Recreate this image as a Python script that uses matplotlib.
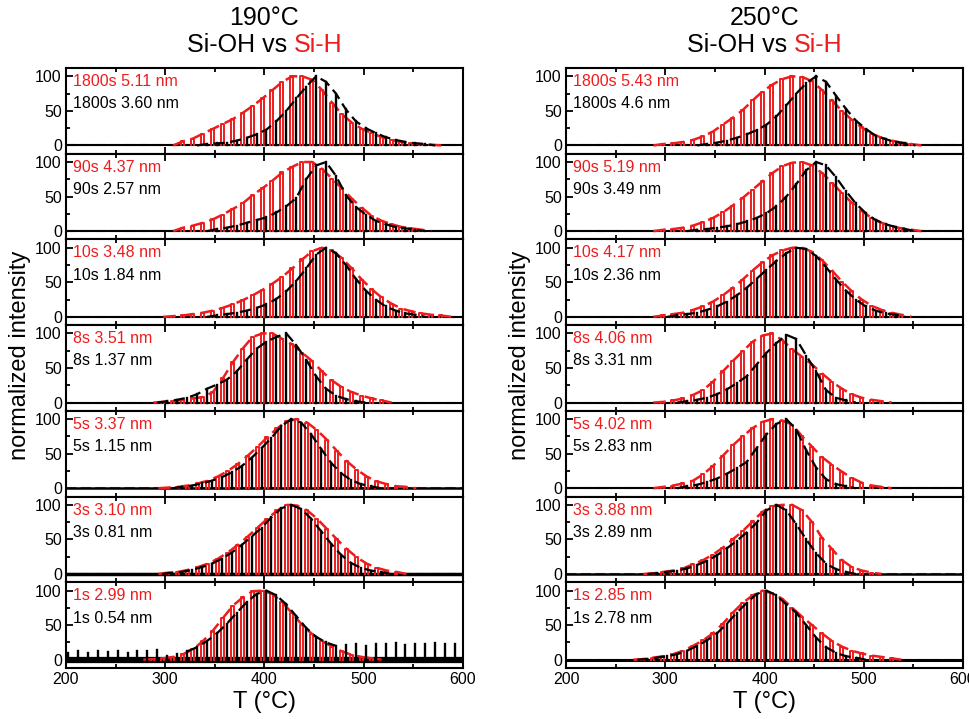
import numpy as np
import matplotlib
matplotlib.use("Agg")
import matplotlib.pyplot as plt

plt.rcParams["font.family"] = ["Liberation Sans", "DejaVu Sans"]

RED = "#ee1c1c"
BLACK = "#000000"
STEP = 10  # spacing of the spikes, °C

times = ["1800s", "90s", "10s", "8s", "5s", "3s", "1s"]

# --- 190 °C column ---
red_190_nm = ["5.11", "4.37", "3.48", "3.51", "3.37", "3.10", "2.99"]
blk_190_nm = ["3.60", "2.57", "1.84", "1.37", "1.15", "0.81", "0.54"]
red_190_start = [320, 320, 310, 300, 305, 305, 290]
red_190 = [
    [6, 10, 17, 24, 31, 38, 47, 57, 68, 80, 92, 100, 100, 95, 80, 62, 45, 33, 24, 18, 12, 8, 5, 3, 2, 1],
    [5, 8, 12, 17, 24, 32, 40, 52, 62, 73, 85, 93, 100, 100, 90, 76, 62, 47, 34, 22, 15, 10, 6, 4, 2],
    [1, 2, 4, 6, 9, 13, 18, 24, 31, 39, 48, 58, 70, 83, 95, 100, 96, 85, 70, 54, 40, 28, 19, 12, 8, 5, 3, 2],
    [1, 2, 4, 6, 8, 15, 35, 58, 78, 95, 100, 100, 92, 84, 72, 60, 45, 32, 22, 15, 10, 6, 3],
    [1, 2, 4, 7, 11, 17, 25, 35, 47, 60, 74, 87, 97, 100, 95, 84, 70, 54, 39, 27, 17, 10, 6, 3, 2],
    [2, 3, 6, 10, 15, 22, 31, 42, 54, 67, 80, 92, 100, 99, 92, 80, 65, 50, 36, 24, 15, 9, 5, 3],
    [1, 2, 4, 8, 15, 27, 42, 60, 78, 90, 99, 100, 95, 83, 67, 50, 37, 27, 19, 12, 7, 4, 2],
]
blk_190_start = [340, 350, 350, 300, 315, 305, 200]
blk_190 = [
    [2, 3, 4, 7, 11, 16, 23, 35, 50, 68, 85, 100, 92, 75, 52, 35, 25, 18, 12, 8, 5, 3, 2],
    [3, 5, 8, 12, 16, 20, 27, 36, 48, 75, 95, 100, 80, 52, 35, 24, 15, 10, 6, 4, 2],
    [2, 4, 6, 9, 13, 18, 26, 37, 52, 70, 90, 100, 92, 75, 55, 38, 25, 15, 9, 5, 3],
    [2, 4, 7, 12, 20, 26, 33, 45, 62, 78, 88, 95, 100, 83, 62, 38, 20, 10, 5, 2],
    [2, 4, 7, 11, 16, 23, 32, 44, 58, 73, 90, 100, 95, 78, 57, 37, 22, 12, 6, 3],
    [2, 3, 6, 10, 15, 22, 31, 42, 54, 67, 82, 95, 100, 94, 80, 62, 44, 28, 16, 9, 5, 3],
    [10, 12, 9, 13, 11, 12, 10, 13, 12, 14, 5, 8, 12, 18, 27, 38, 52, 68, 83, 95, 100, 93, 80, 63,
     46, 33, 25, 20, 21, 22, 20, 23, 22, 24, 21, 23, 22, 24, 22, 23, 24],
]
base_190 = [1.5, 1.5, 1.5, 1.5, 1.8, 2.5, 4.5]

# --- 250 °C column ---
red_250_nm = ["5.43", "5.19", "4.17", "4.06", "4.02", "3.88", "2.85"]
blk_250_nm = ["4.6", "3.49", "2.36", "3.31", "2.83", "2.89", "2.78"]
red_250_start = [300, 300, 300, 300, 300, 290, 280]
red_250 = [
    [2, 3, 5, 8, 13, 20, 30, 40, 51, 65, 78, 88, 96, 100, 99, 93, 80, 65, 50, 37, 26, 17, 11, 7, 4, 2],
    [2, 3, 5, 8, 13, 19, 27, 37, 48, 60, 72, 84, 94, 99, 100, 95, 84, 70, 55, 41, 29, 19, 12, 7, 4, 2],
    [2, 4, 6, 10, 15, 22, 31, 42, 54, 67, 79, 89, 96, 100, 100, 94, 82, 67, 51, 37, 25, 16, 10, 6, 3],
    [1, 3, 6, 11, 18, 30, 45, 60, 74, 88, 97, 100, 90, 77, 66, 55, 42, 30, 20, 12, 7, 4, 2],
    [2, 4, 7, 11, 20, 32, 47, 62, 75, 87, 96, 100, 98, 92, 75, 60, 45, 34, 24, 15, 8, 4, 2],
    [1, 3, 5, 8, 14, 20, 28, 38, 50, 62, 76, 90, 98, 100, 100, 92, 75, 52, 36, 20, 10, 5, 2],
    [1, 3, 5, 8, 13, 20, 28, 38, 52, 68, 82, 93, 100, 96, 88, 75, 62, 50, 38, 27, 19, 13, 9, 6, 4, 2],
]
blk_250_start = [340, 330, 310, 320, 320, 290, 280]
blk_250 = [
    [2, 4, 7, 11, 16, 22, 30, 42, 58, 75, 90, 100, 92, 72, 53, 36, 24, 14, 9, 5, 3],
    [2, 3, 5, 7, 10, 14, 19, 26, 36, 50, 68, 88, 100, 95, 78, 58, 40, 26, 16, 10, 6, 3],
    [2, 4, 6, 10, 15, 22, 31, 42, 55, 68, 81, 92, 100, 98, 88, 72, 54, 38, 25, 15, 9, 5, 3],
    [2, 4, 7, 12, 19, 28, 38, 55, 72, 86, 98, 92, 68, 45, 18, 7, 3],
    [3, 5, 9, 14, 21, 29, 38, 58, 78, 93, 100, 85, 55, 30, 13, 6, 3],
    [1, 3, 5, 8, 13, 19, 27, 37, 48, 60, 74, 92, 100, 92, 72, 50, 30, 15, 7, 3],
    [1, 3, 5, 8, 13, 20, 28, 38, 52, 68, 82, 95, 100, 93, 80, 68, 50, 32, 18, 10, 5, 3],
]
base_250 = [1.5, 1.5, 1.5, 1.5, 1.5, 1.8, 2.2]

columns = [
    ("190°C", red_190_nm, blk_190_nm, red_190_start, red_190, blk_190_start, blk_190, base_190),
    ("250°C", red_250_nm, blk_250_nm, red_250_start, red_250, blk_250_start, blk_250, base_250),
]

W, H = 970, 719
fig = plt.figure(figsize=(W / 100, H / 100), dpi=100)

lefts = [66, 566]
ax_w = 397
top, bottom = 68, 668
ph = (bottom - top) / 7


def spikes(start, heights, offset, width):
    x, y = [], []
    for i, h in enumerate(heights):
        t = start + STEP * i + offset
        if width > 0:
            x += [t, t, t + width, t + width, np.nan]
            y += [0, h, h, 0, np.nan]
        else:
            x += [t, t, np.nan]
            y += [0, h, np.nan]
    return x, y


def envelope(start, heights, offset):
    t = [start + STEP * i + offset for i in range(len(heights))]
    return [t[0] - STEP] + t + [t[-1] + STEP], [0] + list(heights) + [0]


for c, (temp, rnm, bnm, rst, rh, bst, bh, base) in enumerate(columns):
    for k in range(7):
        y_bot = top + (k + 1) * ph  # pixel row of the panel's lower edge
        ax = fig.add_axes([lefts[c] / W, 1 - y_bot / H, ax_w / W, ph / H])
        ax.plot([200, 600], [0, 0], color=RED, lw=1.5, dashes=(5, 2))
        ax.plot([200, 600], [0, 0], color=BLACK, lw=base[k])
        xs, ys = spikes(rst[k], rh[k], -4, 3)
        ax.plot(xs, ys, color=RED, lw=1.4)
        xe, ye = envelope(rst[k], rh[k], -2)
        ax.plot(xe, ye, color=RED, lw=1.8, dashes=(5, 2.5))
        xs, ys = spikes(bst[k], bh[k], 2, 0)
        ax.plot(xs, ys, color=BLACK, lw=1.7)
        if bst[k] > 200:
            xe, ye = envelope(bst[k], bh[k], 2)
            ax.plot(xe, ye, color=BLACK, lw=1.6, dashes=(5, 2.5))
        else:
            pk = int(np.argmax(bh[k]))
            sel = slice(max(pk - 8, 0), pk + 8)
            xe = [bst[k] + STEP * i + 2 for i in range(len(bh[k]))][sel]
            ax.plot(xe, bh[k][sel], color=BLACK, lw=1.6, dashes=(5, 2.5))

        ax.set_xlim(200, 600)
        ax.set_ylim(-12, 112)
        ax.set_yticks([0, 50, 100])
        ax.set_yticks([25, 75], minor=True)
        ax.set_xticks([200, 300, 400, 500, 600])
        ax.set_xticks([250, 350, 450, 550], minor=True)
        ax.tick_params(which="both", direction="in", top=True, right=False,
                       labelsize=11.5, width=1.3, pad=3)
        ax.tick_params(which="major", length=5)
        ax.tick_params(which="minor", length=3)
        for s in ax.spines.values():
            s.set_linewidth(1.5)
        if k < 6:
            ax.tick_params(labelbottom=False)
        else:
            ax.set_xlabel("T (°C)", fontsize=17, labelpad=3)
        ax.text(0.018, 0.93, f"{times[k]} {rnm[k]} nm", color=RED, fontsize=11.5,
                transform=ax.transAxes, va="top", ha="left")
        ax.text(0.018, 0.67, f"{times[k]} {bnm[k]} nm", color=BLACK, fontsize=11.5,
                transform=ax.transAxes, va="top", ha="left")

    cx = (lefts[c] + ax_w / 2) / W
    fig.text(cx, 1 - 18 / H, temp, ha="center", va="center", fontsize=18)
    fig.text((lefts[c] - 46) / W, 1 - 355 / H, "normalized intensity", rotation=90,
             ha="center", va="center", fontsize=17)

# two-coloured subtitle
fig.canvas.draw()
r = fig.canvas.get_renderer()
for c in range(2):
    cx = lefts[c] + ax_w / 2
    t1 = fig.text(0, 1 - 45 / H, "Si-OH vs ", fontsize=18, va="center")
    t2 = fig.text(0, 1 - 45 / H, "Si-H", fontsize=18, va="center", color=RED)
    w1 = t1.get_window_extent(r).width
    w2 = t2.get_window_extent(r).width
    x0 = cx - (w1 + w2) / 2
    t1.set_x(x0 / W)
    t2.set_x((x0 + w1) / W)

fig.savefig("out.png", dpi=100)
